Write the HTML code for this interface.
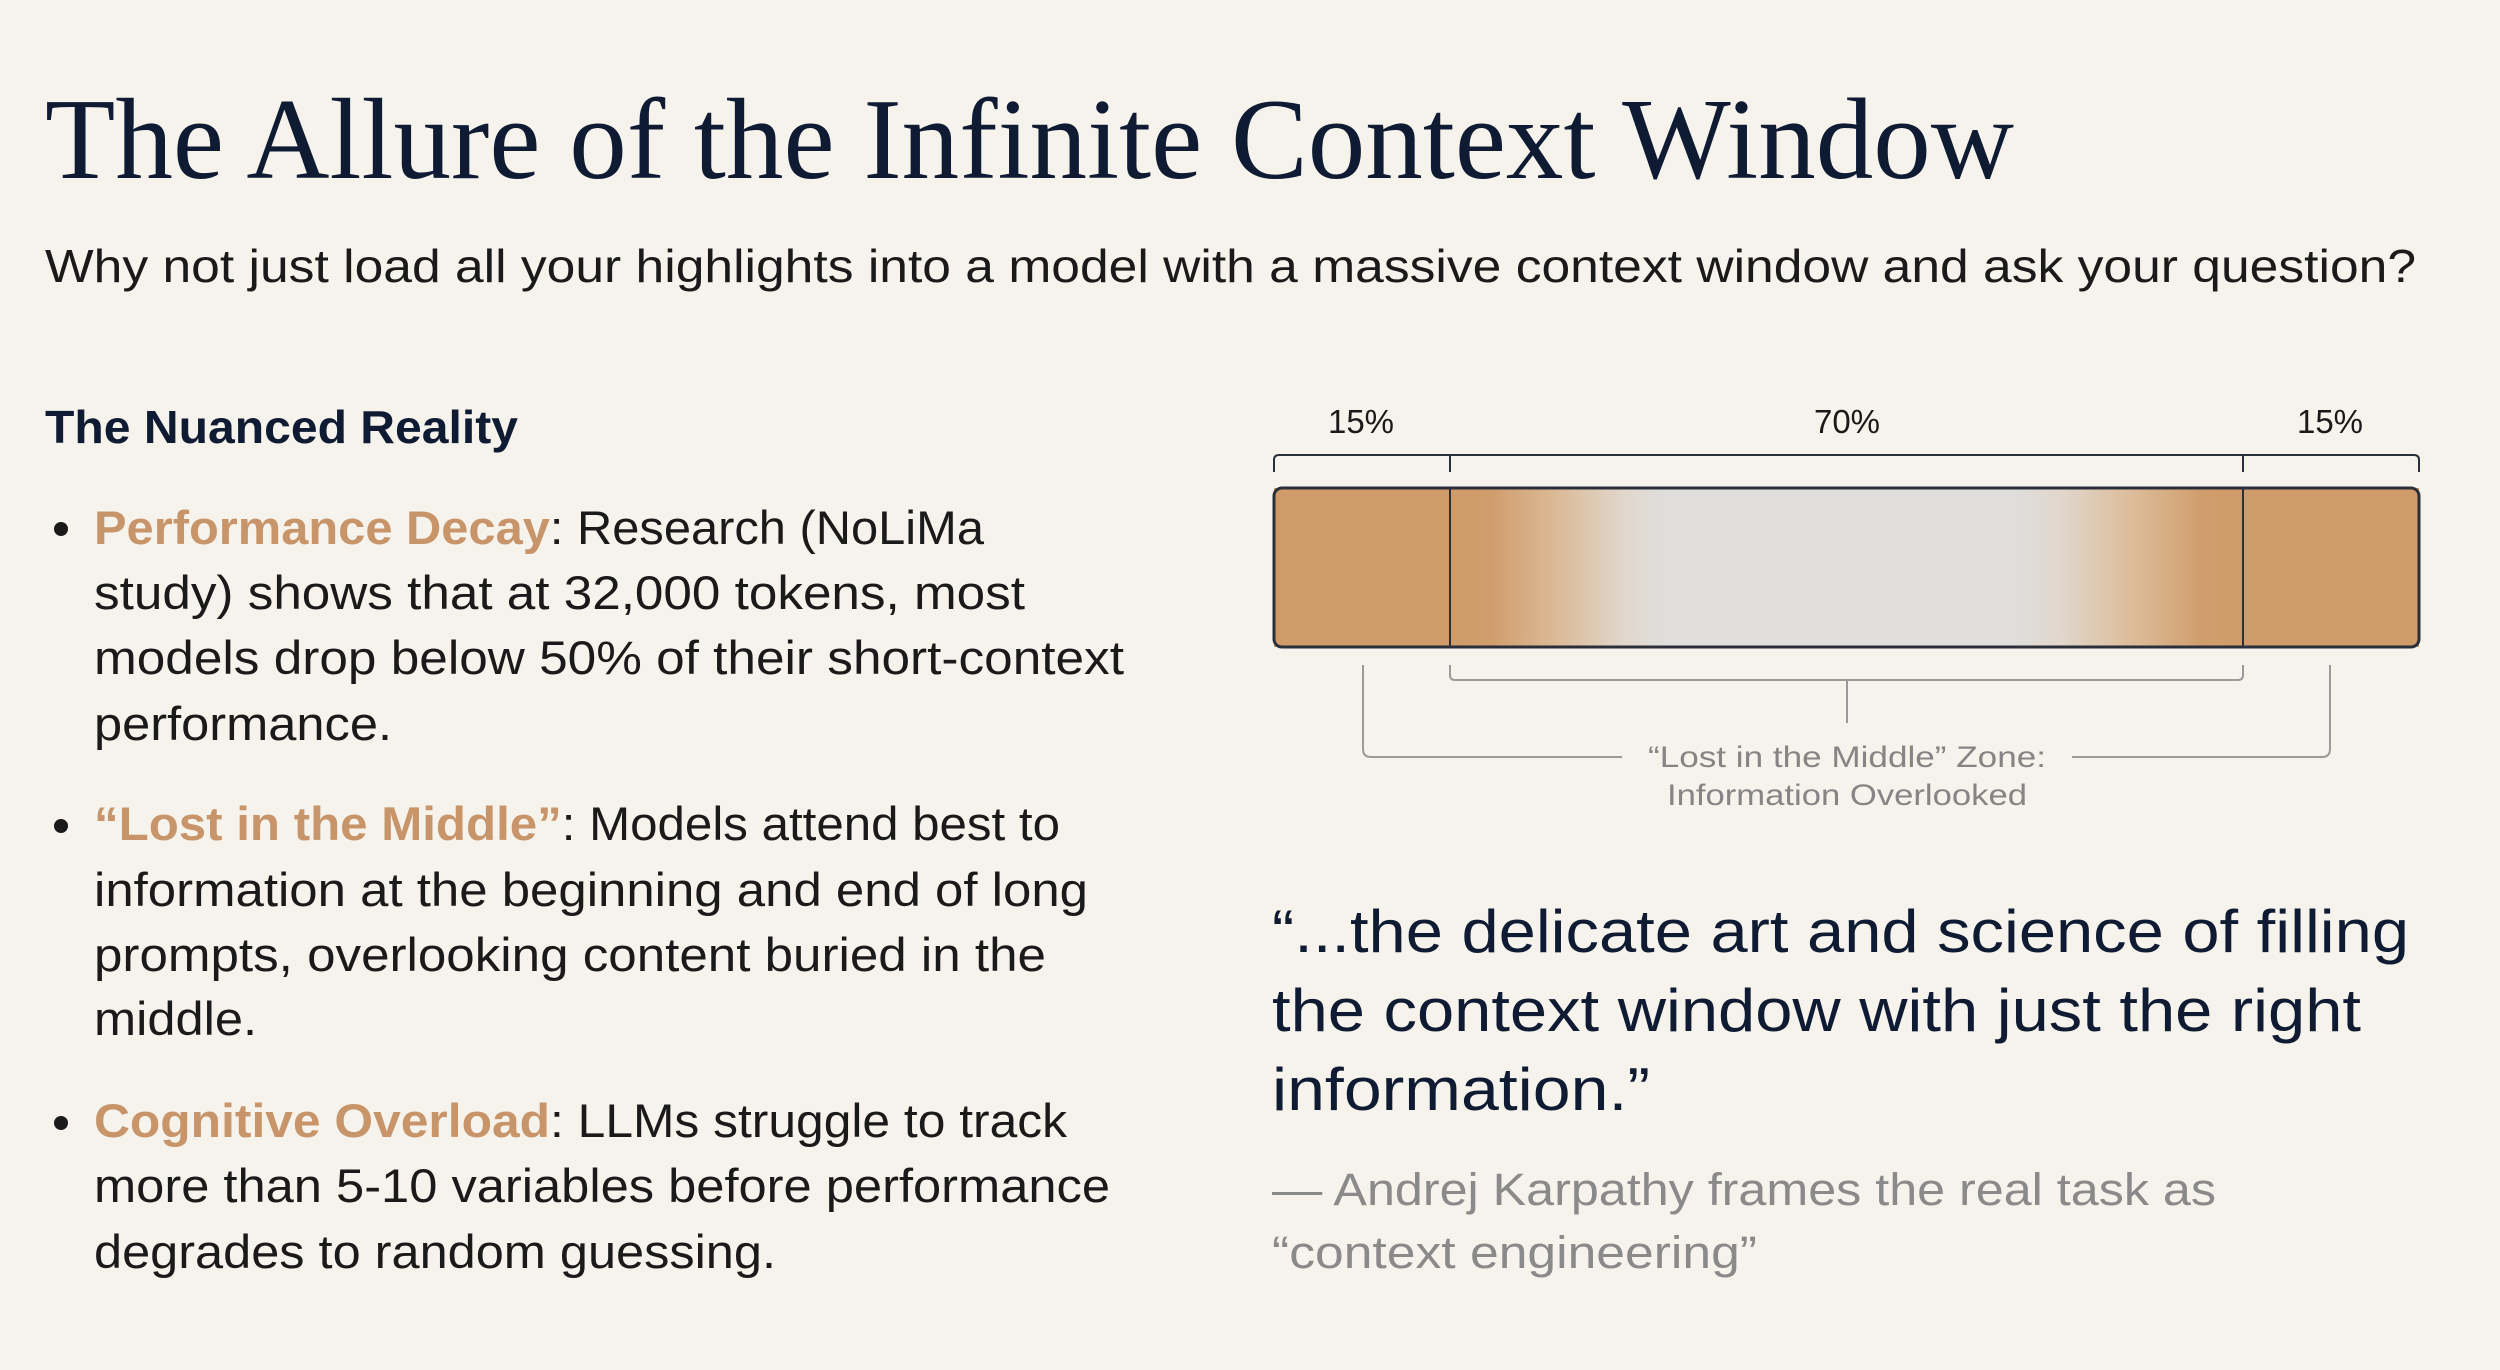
<!DOCTYPE html>
<html><head><meta charset="utf-8"><style>
html,body{margin:0;padding:0;background:#f6f3ec;}
svg{display:block;}
.sans{font-family:"Liberation Sans",sans-serif;}
.serif{font-family:"Liberation Serif",serif;}
</style></head><body>
<svg width="2500" height="1370" viewBox="0 0 2500 1370" xmlns="http://www.w3.org/2000/svg">
<defs>
<linearGradient id="mid" x1="0" x2="1" y1="0" y2="0">
<stop offset="0" stop-color="#cf9b68"/>
<stop offset="0.05" stop-color="#d09d6c"/>
<stop offset="0.14" stop-color="#dcbc9a"/>
<stop offset="0.22" stop-color="#e1d7cc"/>
<stop offset="0.27" stop-color="#dfdedc"/>
<stop offset="0.71" stop-color="#dfdedc"/>
<stop offset="0.77" stop-color="#e1d7cc"/>
<stop offset="0.86" stop-color="#dcbc9a"/>
<stop offset="0.95" stop-color="#d09d6c"/>
<stop offset="1" stop-color="#cf9b68"/>
</linearGradient>
</defs>
<rect width="2500" height="1370" fill="#f6f3ec"/>
<text class="serif" x="45" y="178" font-size="116" fill="#0f1b33" textLength="1969" lengthAdjust="spacingAndGlyphs">The Allure of the Infinite Context Window</text>
<text class="sans" x="45" y="282" font-size="46" fill="#1a1a1a" textLength="2371" lengthAdjust="spacingAndGlyphs">Why not just load all your highlights into a model with a massive context window and ask your question?</text>
<text class="sans" x="45" y="443" font-size="46" font-weight="bold" fill="#0f1b33" textLength="473" lengthAdjust="spacingAndGlyphs">The Nuanced Reality</text>

<g class="sans" font-size="47" fill="#1a1a1a">
<circle cx="61" cy="529" r="7" fill="#1a1a1a"/>
<text x="94" y="544" textLength="890" lengthAdjust="spacingAndGlyphs"><tspan fill="#c8956a" font-weight="bold">Performance Decay</tspan>: Research (NoLiMa</text>
<text x="94" y="609" textLength="931" lengthAdjust="spacingAndGlyphs">study) shows that at 32,000 tokens, most</text>
<text x="94" y="674" textLength="1030" lengthAdjust="spacingAndGlyphs">models drop below 50% of their short-context</text>
<text x="94" y="740" textLength="298" lengthAdjust="spacingAndGlyphs">performance.</text>

<circle cx="61" cy="826" r="7" fill="#1a1a1a"/>
<text x="94" y="840" textLength="966" lengthAdjust="spacingAndGlyphs"><tspan fill="#c8956a" font-weight="bold">“Lost in the Middle”</tspan>: Models attend best to</text>
<text x="94" y="906" textLength="994" lengthAdjust="spacingAndGlyphs">information at the beginning and end of long</text>
<text x="94" y="971" textLength="952" lengthAdjust="spacingAndGlyphs">prompts, overlooking content buried in the</text>
<text x="94" y="1035" textLength="163" lengthAdjust="spacingAndGlyphs">middle.</text>

<circle cx="61" cy="1123" r="7" fill="#1a1a1a"/>
<text x="94" y="1137" textLength="973" lengthAdjust="spacingAndGlyphs"><tspan fill="#c8956a" font-weight="bold">Cognitive Overload</tspan>: LLMs struggle to track</text>
<text x="94" y="1202" textLength="1016" lengthAdjust="spacingAndGlyphs">more than 5-10 variables before performance</text>
<text x="94" y="1268" textLength="682" lengthAdjust="spacingAndGlyphs">degrades to random guessing.</text>
</g>

<g class="sans" font-size="33" fill="#1a1a1a" text-anchor="middle">
<text x="1361" y="433">15%</text>
<text x="1847" y="433">70%</text>
<text x="2330" y="433">15%</text>
</g>
<g fill="none" stroke="#2a2f3a" stroke-width="2">
<path d="M1274 472 V460 Q1274 455 1279 455 H2414 Q2419 455 2419 460 V472"/>
<path d="M1450 455 V472 M2243 455 V472"/>
</g>
<rect x="1274" y="488" width="176" height="159" fill="#cf9b68"/>
<rect x="1450" y="488" width="793" height="159" fill="url(#mid)"/>
<rect x="2243" y="488" width="176" height="159" fill="#cf9b68"/>
<rect x="1274" y="488" width="1145" height="159" rx="8" fill="none" stroke="#2a2f3a" stroke-width="3"/>
<path d="M1450 488 V647 M2243 488 V647" stroke="#2a2f3a" stroke-width="2"/>
<g fill="none" stroke="#9a9a9a" stroke-width="2">
<path d="M1450 665 V675 Q1450 680 1455 680 H2238 Q2243 680 2243 675 V665"/>
<path d="M1847 680 V723"/>
<path d="M1363 665 V749 Q1363 757 1371 757 H1622"/>
<path d="M2072 757 H2322 Q2330 757 2330 749 V665"/>
</g>
<g class="sans" font-size="30" fill="#858585" text-anchor="middle">
<text x="1847" y="767" textLength="398" lengthAdjust="spacingAndGlyphs">“Lost in the Middle” Zone:</text>
<text x="1847" y="805" textLength="360" lengthAdjust="spacingAndGlyphs">Information Overlooked</text>
</g>
<g class="sans" font-size="60" fill="#0f1b33">
<text x="1272" y="952" textLength="1137" lengthAdjust="spacingAndGlyphs">“...the delicate art and science of filling</text>
<text x="1272" y="1031" textLength="1089" lengthAdjust="spacingAndGlyphs">the context window with just the right</text>
<text x="1272" y="1110" textLength="378" lengthAdjust="spacingAndGlyphs">information.”</text>
</g>
<g class="sans" font-size="45" fill="#8a8a8a">
<text x="1272" y="1205" textLength="944" lengthAdjust="spacingAndGlyphs">— Andrej Karpathy frames the real task as</text>
<text x="1272" y="1268" textLength="485" lengthAdjust="spacingAndGlyphs">“context engineering”</text>
</g>
</svg>
</body></html>
